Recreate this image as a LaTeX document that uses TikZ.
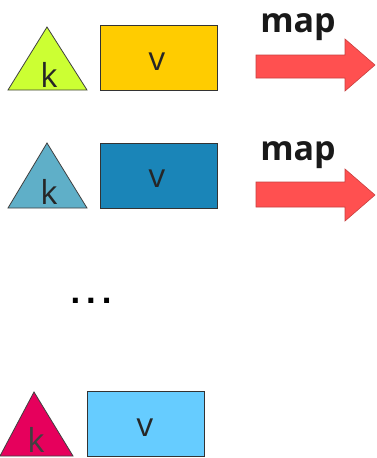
\documentclass[tikz,border=0pt]{standalone}
\usepackage{fontspec}
\setmainfont{Open Sans}
\newfontfamily\dotfont{DejaVu Sans}
\begin{document}
\begin{tikzpicture}[x=1pt,y=-1pt,
  txt/.style={font=\fontsize{33}{35}\selectfont, text=black!85, inner sep=0pt, anchor=base},
  vbox/.style={draw=black!80, line width=0.8pt, minimum width=117pt, minimum height=65pt, anchor=north west, inner sep=0pt},
  tri/.style={draw=black!75, line width=0.8pt},
  bigarrow/.style={fill=arrowred, draw=arrowedge, line width=0.6pt},
  maplabel/.style={font=\bfseries\fontsize{34}{36}\selectfont, inner sep=0pt, text=black!90, anchor=base}]
\definecolor{arrowred}{HTML}{FF5050}
\definecolor{arrowedge}{HTML}{C84040}
\definecolor{limeg}{HTML}{CCFF33}
\definecolor{gold}{HTML}{FFCC00}
\definecolor{tealtri}{HTML}{5FAFC8}
\definecolor{bluebox}{HTML}{1A85B8}
\definecolor{pinktri}{HTML}{E6005C}
\definecolor{skyb}{HTML}{66CCFF}
\useasboundingbox (0,0) rectangle (376,458);
\fill[white] (0,0) rectangle (376,458);
% row 1
\filldraw[tri, fill=limeg] (8,90) -- (47,27) -- (87,90) -- cycle;
\node[txt] (k1) at (49,87) {k};
\node[vbox, fill=gold] (r1) at (100,25) {};
\node[txt] (v1) at (157,70) {v};
\filldraw[bigarrow] (256,55) -- (345,55) -- (345,39) -- (375,65) -- (345,91) -- (345,78) -- (256,78) -- cycle;
\node[maplabel] (m1) at (298,32) {map};
% row 2
\filldraw[tri, fill=tealtri] (8,208) -- (47,143) -- (87,208) -- cycle;
\node[txt] (k2) at (49,204) {k};
\node[vbox, fill=bluebox] (r2) at (100,143) {};
\node[txt] (v2) at (157,187) {v};
\filldraw[bigarrow] (256,182) -- (345,182) -- (345,169) -- (375,195) -- (345,221) -- (345,207) -- (256,207) -- cycle;
\node[maplabel] (m2) at (298,160) {map};
% dots
\node[inner sep=0pt, anchor=base, font=\dotfont\bfseries\fontsize{28}{30}\selectfont] (dots) at (91,303) {.\kern5pt.\kern5pt.};
% row 3
\filldraw[tri, fill=pinktri] (0,456) -- (34,392) -- (73,456) -- cycle;
\node[txt, text=black!75] (k3) at (36,452) {k};
\node[vbox, fill=skyb] (r3) at (87,391) {};
\node[txt] (v3) at (145,436) {v};
\end{tikzpicture}
\end{document}
